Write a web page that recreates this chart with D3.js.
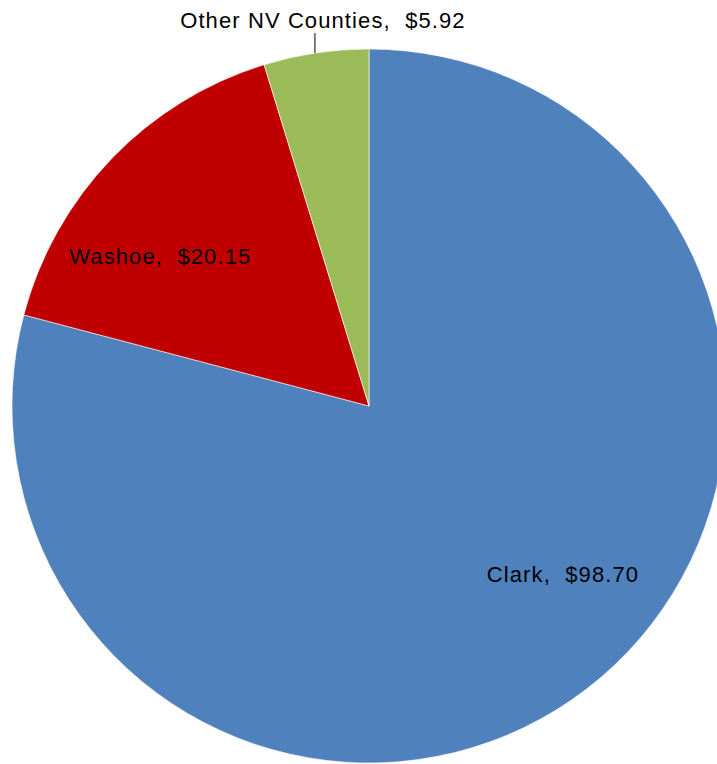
<!DOCTYPE html>
<html lang="en">
<head>
  <meta charset="UTF-8">
  <script src="https://d3js.org/d3.v7.min.js"></script>
  <style>
    body { margin: 0; background: #fff; }
    text { font-family: "Liberation Sans", Arial, sans-serif; white-space: pre; }
  </style>
</head>
<body>
  <svg width="717" height="764"></svg>
  <script>
    // data
    var counties = ["Clark", "Washoe", "Other NV Counties"];
    var amounts = [98.70, 20.15, 5.92];
    var colors = ["#4F81BD", "#C00000", "#9BBB59"];

    var svg = d3.select("svg");
    var cx = 369, cy = 406, r = 357;
    var g = svg.append("g").attr("transform", "translate(" + cx + "," + cy + ")");

    var slices = counties.map(function(c, i){ return { name: c, value: amounts[i], i: i } });

    var pie = d3.pie().sort(null).value(function(d){ return d.value });
    var arc = d3.arc().innerRadius(0).outerRadius(r);
    var arcs = pie(slices);

    g.selectAll("path")
      .data(arcs)
      .enter()
      .append("path")
      .attr("d", arc)
      .attr("fill", function(d){ return colors[d.data.i] })
      .attr("stroke", "#fff")
      .attr("stroke-width", 0.6);

    // label placement: fraction along the slice angle, fraction of radius
    var labelAt = [
      { t: 0.46, k: 0.72, outside: false },
      { t: 0.36, k: 0.72, outside: false },
      { t: 0.49, k: 1.0, outside: true }
    ];

    function fmt(v){ return "$" + d3.format(".2f")(v) }

    arcs.forEach(function(d){
      var p = labelAt[d.data.i];
      var a = d.startAngle + (d.endAngle - d.startAngle) * p.t;
      var x = Math.sin(a) * r * p.k, y = -Math.cos(a) * r * p.k;
      var label = d.data.name + ",  " + fmt(d.data.value);
      var t;
      if (p.outside) {
        g.append("line")
          .attr("x1", x).attr("y1", y)
          .attr("x2", x).attr("y2", y - 20)
          .attr("stroke", "#000").attr("stroke-width", 1);
        t = g.append("text")
          .attr("x", x + 8).attr("y", y - 25);
      } else {
        t = g.append("text")
          .attr("x", x).attr("y", y)
          .attr("dy", "0.35em");
      }
      t.attr("text-anchor", "middle")
        .attr("font-size", 22)
        .attr("letter-spacing", 1.1)
        .text(label);
    });
  </script>
</body>
</html>
